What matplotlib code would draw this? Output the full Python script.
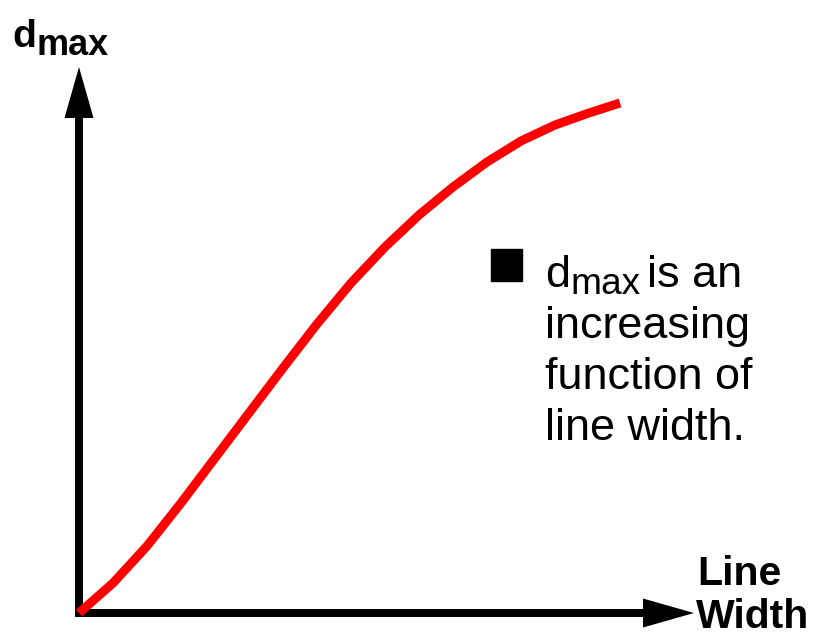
import matplotlib
matplotlib.use("Agg")
import matplotlib.pyplot as plt
from matplotlib.patches import Polygon, Rectangle

# Curve data (arbitrary units: line width vs d_max)
line_width = [0.0, 0.553, 1.106, 1.659, 2.211, 2.764, 3.317, 3.870, 4.423,
              4.976, 5.528, 6.081, 6.634, 7.187, 7.740, 8.293, 8.797]
d_max = [0.0, 0.549, 1.227, 2.015, 2.839, 3.663, 4.487, 5.293, 6.044,
         6.703, 7.289, 7.802, 8.260, 8.645, 8.938, 9.158, 9.341]

W, H = 820, 639
DPI = 100
fig = plt.figure(figsize=(W / DPI, H / DPI), dpi=DPI)
ax = fig.add_axes([0, 0, 1, 1])

# pixel geometry of the axis system
ox, oy = 79, 613          # origin pixel
sx, sy = 61.5, 54.6       # pixels per data unit
ax.set_xlim(-ox / sx, (W - ox) / sx)
ax.set_ylim(-(H - oy) / sy, oy / sy)
ax.axis("off")

def px2d(px, py):
    return (px - ox) / sx, (oy - py) / sy

# arrow axes
lw_axis = 8 * 72 / DPI
xtip = px2d(694, oy)[0]
ytip = px2d(ox, 67)[1]
hl_x = 51 / sx; hw_x = 14.5 / sy
hl_y = 51 / sy; hw_y = 14.5 / sx
x0 = px2d(75, oy)[0]
y0 = px2d(ox, 617)[1]
ax.plot([x0, xtip - hl_x + 0.05], [0, 0], color="black", lw=lw_axis,
        solid_capstyle="butt", zorder=2)
ax.plot([0, 0], [y0, ytip - hl_y + 0.05], color="black", lw=lw_axis,
        solid_capstyle="butt", zorder=2)
ax.add_patch(Polygon([[xtip, 0], [xtip - hl_x, hw_x], [xtip - hl_x, -hw_x]],
                     closed=True, color="black", lw=0, zorder=2))
ax.add_patch(Polygon([[0, ytip], [hw_y, ytip - hl_y], [-hw_y, ytip - hl_y]],
                     closed=True, color="black", lw=0, zorder=2))

# the curve
ax.plot(line_width, d_max, color="#FF0000", lw=9 * 72 / DPI,
        solid_capstyle="butt", solid_joinstyle="round", zorder=3)

FONT = "Liberation Sans"

def fx(px):
    return px / W

def fy(py):
    return 1 - py / H

def pt(pxsize):
    return pxsize * 72 / DPI

# y-axis label d_max
fig.text(fx(12), fy(47), "d", fontsize=pt(39), fontweight="bold",
         family=FONT, va="baseline", ha="left")
fig.text(fx(37), fy(55), "max", fontsize=pt(36), fontweight="bold",
         family=FONT, va="baseline", ha="left")

# x-axis label
fig.text(fx(697), fy(585), "Line", fontsize=pt(41), fontweight="bold",
         family=FONT, va="baseline", ha="left")
fig.text(fx(696), fy(628), "Width", fontsize=pt(41), fontweight="bold",
         family=FONT, va="baseline", ha="left")

# bullet
fig.patches.append(Rectangle((fx(491), fy(281)), 31 / W, 32 / H,
                             transform=fig.transFigure, color="black",
                             figure=fig))
fs = pt(45)
fig.text(fx(545), fy(287), "d", fontsize=fs, family=FONT, va="baseline", ha="left")
fig.text(fx(570), fy(294), "max", fontsize=pt(37), family=FONT,
         va="baseline", ha="left")
fig.text(fx(647), fy(287), "is an", fontsize=fs, family=FONT,
         va="baseline", ha="left")
lines = ["increasing", "function of", "line width."]
for i, s in enumerate(lines):
    fig.text(fx(545), fy(338 + 51 * i), s, fontsize=fs, family=FONT,
             va="baseline", ha="left")

fig.savefig("out.png", dpi=DPI)
